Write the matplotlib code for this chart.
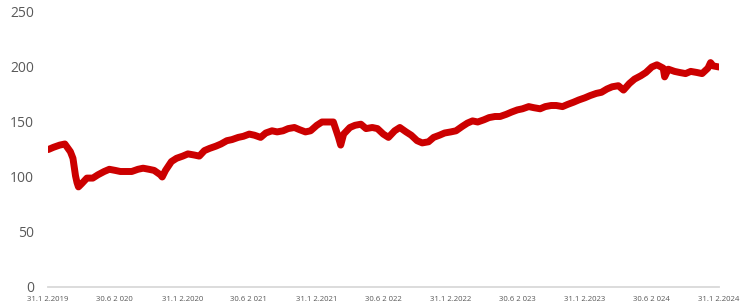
import matplotlib
matplotlib.use("Agg")
import matplotlib.pyplot as plt
import pandas as pd

dates = [
    "2019-12-31",
    "2020-01-01", "2020-01-15", "2020-02-01", "2020-02-15", "2020-03-01", "2020-03-08", "2020-03-15",
    "2020-03-19", "2020-03-23", "2020-04-01", "2020-04-15", "2020-05-01", "2020-05-15", "2020-06-01",
    "2020-06-15", "2020-07-01", "2020-07-15", "2020-08-01", "2020-08-15", "2020-09-01", "2020-09-15",
    "2020-10-01", "2020-10-15", "2020-11-01", "2020-11-06", "2020-11-15", "2020-12-01", "2020-12-15",
    "2021-01-01", "2021-01-15", "2021-02-01", "2021-02-15", "2021-03-01", "2021-03-15", "2021-04-01",
    "2021-04-15", "2021-05-01", "2021-05-15", "2021-06-01", "2021-06-15", "2021-07-01", "2021-07-15",
    "2021-08-01", "2021-08-15", "2021-09-01", "2021-09-15", "2021-10-01", "2021-10-15", "2021-11-01",
    "2021-11-15", "2021-12-01", "2021-12-15",
    "2022-01-01", "2022-01-15", "2022-02-01", "2022-02-15", "2022-02-24", "2022-03-01", "2022-03-07",
    "2022-03-15", "2022-04-01", "2022-04-15", "2022-05-01", "2022-05-15", "2022-06-01", "2022-06-15",
    "2022-07-01", "2022-07-15", "2022-08-01", "2022-08-15", "2022-09-01", "2022-09-15", "2022-10-01",
    "2022-10-15", "2022-11-01", "2022-11-15", "2022-12-01", "2022-12-15",
    "2023-01-01", "2023-01-15", "2023-02-01", "2023-02-15", "2023-03-01", "2023-03-15", "2023-04-01",
    "2023-04-15", "2023-05-01", "2023-05-15", "2023-06-01", "2023-06-15", "2023-07-01", "2023-07-15",
    "2023-08-01", "2023-08-15", "2023-09-01", "2023-09-15", "2023-10-01", "2023-10-15", "2023-11-01",
    "2023-11-15", "2023-12-01", "2023-12-15",
    "2024-01-01", "2024-01-15", "2024-02-01", "2024-02-15", "2024-03-01", "2024-03-15", "2024-04-01",
    "2024-04-15", "2024-05-01", "2024-05-15", "2024-06-01", "2024-06-15", "2024-07-01", "2024-07-15",
    "2024-08-01", "2024-08-05", "2024-08-15", "2024-09-01", "2024-09-15", "2024-10-01", "2024-10-15",
    "2024-11-01", "2024-11-15", "2024-12-01", "2024-12-08", "2024-12-15", "2024-12-31",
]

values = [
    125,
    125, 127, 129, 130, 123, 117, 101,
    95, 91, 94, 99, 99, 102, 105,
    107, 106, 105, 105, 105, 107, 108,
    107, 106, 102, 100, 106, 114, 117,
    119, 121, 120, 119, 124, 126, 128,
    130, 133, 134, 136, 137, 139, 138,
    136, 140, 142, 141, 142, 144, 145,
    143, 141, 142,
    147, 150, 150, 150, 141, 136, 129,
    139, 145, 147, 148, 144, 145, 144,
    139, 136, 142, 145, 141, 138, 133,
    131, 132, 136, 138, 140,
    141, 142, 146, 149, 151, 150, 152,
    154, 155, 155, 157, 159, 161, 162,
    164, 163, 162, 164, 165, 165, 164,
    166, 168, 170,
    172, 174, 176, 177, 180, 182, 183,
    179, 185, 189, 192, 195, 200, 202,
    199, 191, 198, 196, 195, 194, 196,
    195, 194, 199, 204, 201, 200,
]

tick_dates = ["2019-12-31", "2020-06-30", "2020-12-31", "2021-06-30", "2021-12-31", "2022-06-30",
              "2022-12-31", "2023-06-30", "2023-12-31", "2024-06-30", "2024-12-31"]
tick_labels = ["31.1 2.2019", "30.6 2 020", "31.1 2.2020", "30.6 2 021", "31.1 2.2021", "30.6 2 022",
               "31.1 2.2022", "30.6 2 023", "31.1 2.2023", "30.6 2 024", "31.1 2.2024"]
y_ticks = [0, 50, 100, 150, 200, 250]

plt.rcParams['font.family'] = ['Open Sans', 'DejaVu Sans']

fig = plt.figure(figsize=(7.45, 3.06), dpi=100)
ax = fig.add_axes([0.0644, 0.0621, 0.9007, 0.8987])

x = pd.to_datetime(dates)
ax.plot(x, values, color='#CC0000', linewidth=5.0, solid_joinstyle='round', solid_capstyle='round')

ax.set_xlim(pd.Timestamp("2019-12-31"), pd.Timestamp("2024-12-31"))
ax.set_ylim(0, 250)
ax.set_yticks(y_ticks)
ax.set_yticklabels([str(v) for v in y_ticks])
ax.set_xticks(pd.to_datetime(tick_dates))
ax.set_xticklabels(tick_labels)

for s in ['top', 'right', 'left']:
    ax.spines[s].set_visible(False)
ax.spines['bottom'].set_color('#d9d9d9')
ax.spines['bottom'].set_linewidth(1.3)

ax.tick_params(axis='y', length=0, pad=10, labelsize=10, labelcolor='#595959')
ax.tick_params(axis='x', length=0, pad=6.5, labelsize=5.6, labelcolor='#595959')

fig.savefig("out.png", dpi=100)
